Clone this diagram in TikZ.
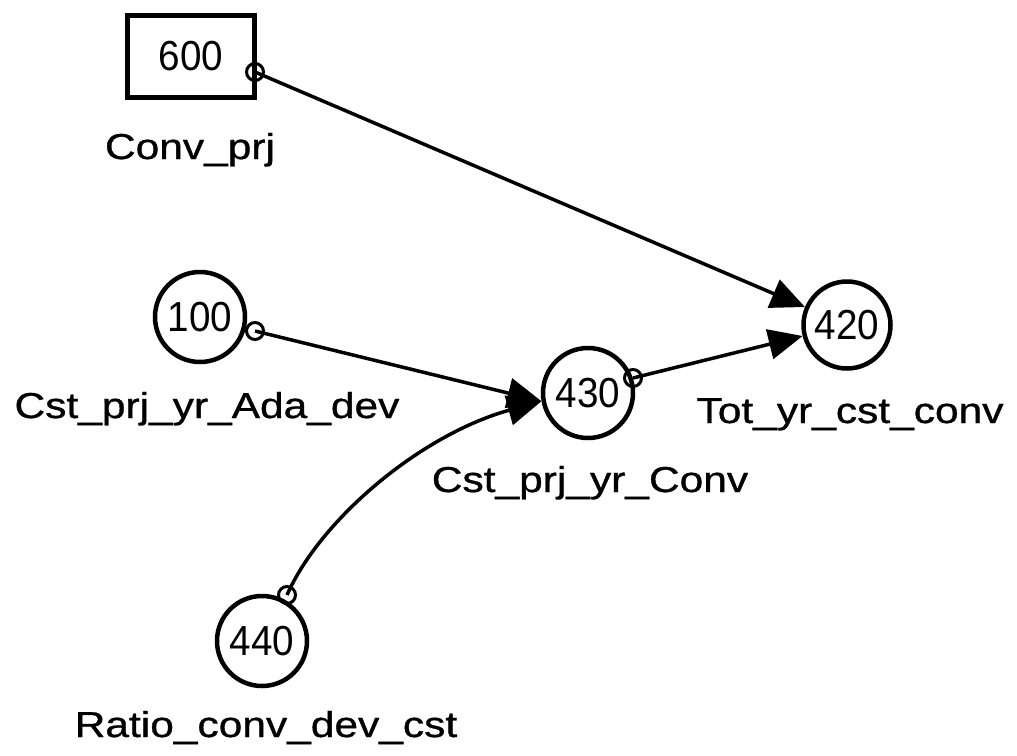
\documentclass[tikz,border=0pt]{standalone}
\usepackage{fontspec}
\setmainfont{Liberation Sans}
\newfontfamily\labfont{Liberation Sans}[FakeBold=0.8]
\usepackage{graphicx}
\usetikzlibrary{arrows.meta}
\newcommand{\lbl}[1]{\scalebox{1.18}[1]{#1}}
\newcommand{\dig}[1]{\scalebox{0.92}[1]{#1}}
\begin{document}
\begin{tikzpicture}[x=1pt,y=-1pt,
  varcirc/.style={circle,draw,line width=4.5pt,minimum size=90pt,inner sep=0pt,font=\fontsize{42}{44}\selectfont},
  varbox/.style={rectangle,draw,line width=5pt,minimum width=127pt,minimum height=82pt,inner sep=0pt,font=\fontsize{42}{44}\selectfont},
  port/.style={circle,draw,line width=3pt,minimum size=17pt,inner sep=0pt},
  lab/.style={anchor=base,font=\labfont\fontsize{36}{40}\selectfont,inner sep=0pt},
  link/.style={line width=3.5pt,-{Triangle[length=34pt,width=30pt]}}
]
\useasboundingbox (0,0) rectangle (1017,755);
% variables
\node[varbox] (n600) at (191,56.5) {\dig{600}};
\node[varcirc] (n100) at (200,317) {\dig{100}};
\node[varcirc] (n430) at (588,393) {\dig{430}};
\node[varcirc,minimum size=87pt] (n420) at (847,325) {\dig{420}};
\node[varcirc] (n440) at (262,641) {\dig{440}};
% output ports
\node[port] (p600) at (255,72) {};
\node[port] (p100) at (255,331) {};
\node[port] (p430) at (633,378) {};
\node[port] (p440) at (287,595) {};
% labels
\node[lab] (l600) at (190,159) {\lbl{Conv\_prj}};
\node[lab] (l100) at (207,418) {\lbl{Cst\_prj\_yr\_Ada\_dev}};
\node[lab] (l420) at (850,423) {\lbl{Tot\_yr\_cst\_conv}};
\node[lab] (l430) at (590,492) {\lbl{Cst\_prj\_yr\_Conv}};
\node[lab] (l440) at (266,737) {\lbl{Ratio\_conv\_dev\_cst}};
% connectors
\draw[link] (p600.center) -- (n420);
\draw[link] (p100.center) -- (n430.190);
\draw[link] (p430.center) -- (n420);
\draw[link] (p440.center) .. controls (320,520) and (420,435) .. (n430.190);
\end{tikzpicture}
\end{document}
